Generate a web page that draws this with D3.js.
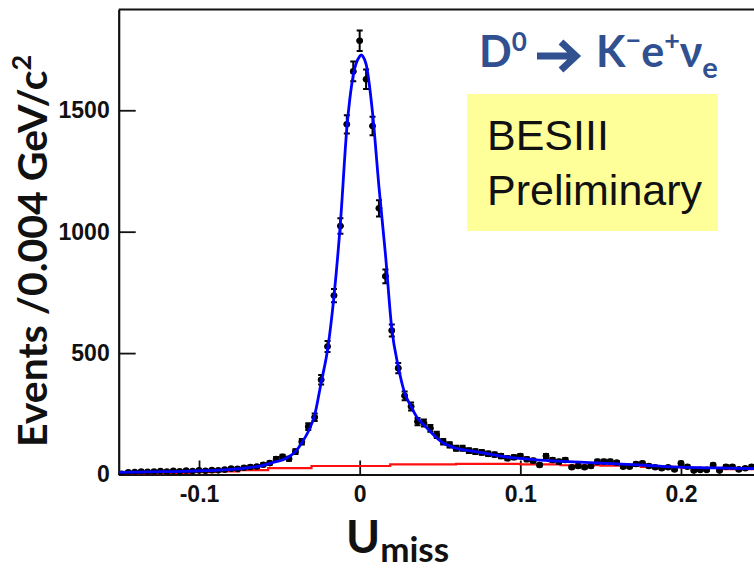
<!DOCTYPE html>
<html>
<head>
<meta charset="utf-8">
<script src="https://cdn.jsdelivr.net/npm/d3@7"></script>
<style>
  html, body { margin: 0; padding: 0; background: #fff; }
  svg { display: block; }
</style>
</head>
<body>
<svg id="chart" width="754" height="568"></svg>
<script>
// U_miss histogram: 0.004 GeV bins from -0.15 to 0.25
const uMin = -0.15;
const uMax = 0.25;
const binWidth = 0.004;

// Events per bin
const counts = [
  3, 9, 10, 12, 11, 12, 14, 12, 15, 13,
  16, 14, 17, 15, 18, 17, 20, 24, 23, 28,
  31, 33, 40, 47, 64, 73, 65, 94, 135, 197,
  236, 390, 527, 737, 1023, 1442, 1660, 1786, 1628, 1435,
  1096, 816, 593, 438, 324, 280, 218, 212, 190, 163,
  135, 122, 108, 108, 98, 94, 91, 85, 82, 76,
  67, 71, 76, 63, 57, 39, 76, 60, 53, 60,
  30, 35, 30, 35, 53, 53, 53, 49, 32, 32,
  43, 46, 35, 30, 26, 30, 21, 46, 32, 16,
  19, 19, 39, 16, 32, 32, 21, 26, 32, 28
];

// Total fit (signal + background)
const fitU = [
  -0.150, -0.130, -0.110, -0.100, -0.090, -0.080, -0.070, -0.060, -0.052, -0.048,
  -0.044, -0.040, -0.036, -0.032, -0.028, -0.024, -0.020, -0.016, -0.012, -0.008,
  -0.004, 0.000, 0.001, 0.002, 0.004, 0.008, 0.012, 0.016, 0.020, 0.024,
  0.028, 0.032, 0.036, 0.040, 0.044, 0.048, 0.052, 0.056, 0.060, 0.070,
  0.080, 0.090, 0.100, 0.110, 0.120, 0.140, 0.160, 0.180, 0.200, 0.220, 0.250
];
const fitVal = [
  9, 11, 13, 15, 17, 21, 27, 38, 53, 60,
  73, 94, 131, 177, 245, 378, 514, 734, 1035, 1424,
  1645, 1722, 1728, 1722, 1690, 1490, 1185, 910, 600, 445,
  336, 280, 232, 204, 177, 150, 130, 118, 108, 96,
  85, 74, 66, 60, 56, 50, 44, 37, 30, 27, 24
];

// Background component
const bkgU = [
  -0.150, -0.135, -0.120, -0.105, -0.090, -0.075, -0.057, -0.030, 0.019, 0.060,
  0.100, 0.125, 0.150, 0.175, 0.200, 0.225, 0.250
];
const bkgVal = [
  3, 5, 7, 10, 13, 18, 26, 35, 42, 44,
  42, 38, 36, 31, 27, 22, 19
];

// Axis ticks
const xTicks = [-0.1, 0, 0.1, 0.2];
const xTickLabels = ["-0.1", "0", "0.1", "0.2"];
const yTicks = [0, 500, 1000, 1500];
const yTickLabels = ["0", "500", "1000", "1500"];

const svg = d3.select("#chart");

const x = d3.scaleLinear().domain([uMin, uMax]).range([118.7, 761.3]);
const y = d3.scaleLinear().domain([0, 1915]).range([474.5, 9.5]);

const [xl, xr] = x.range();
const [yb, yt] = y.range();

svg.append("defs").append("clipPath").attr("id", "plotClip")
  .append("rect")
  .attr("x", xl).attr("y", yt)
  .attr("width", xr - xl).attr("height", yb - yt);

const tickFont = "'Liberation Sans', Arial, sans-serif";

// Frame: top border
svg.append("line")
  .attr("x1", xl).attr("x2", xr)
  .attr("y1", yt).attr("y2", yt)
  .attr("stroke", "#111").attr("stroke-width", 2.2);

// Y axis, ticks pointing into the frame
const yAxis = d3.axisLeft(y)
  .tickValues(yTicks)
  .tickFormat((d, i) => yTickLabels[i])
  .tickSizeInner(-17)
  .tickSizeOuter(0)
  .tickPadding(9);
const gy = svg.append("g")
  .attr("transform", `translate(${xl},0)`)
  .call(yAxis);

// X axis, ticks pointing up
const xAxis = d3.axisBottom(x)
  .tickValues(xTicks)
  .tickFormat((d, i) => xTickLabels[i])
  .tickSizeInner(-14)
  .tickSizeOuter(0)
  .tickPadding(11);
const gx = svg.append("g")
  .attr("transform", `translate(0,${yb})`)
  .call(xAxis);

[gx, gy].forEach(g => {
  g.attr("font-family", tickFont).attr("font-size", 23).attr("font-weight", "bold");
  g.select(".domain").attr("stroke", "#111").attr("stroke-width", 2.2);
  g.selectAll(".tick line").attr("stroke", "#111").attr("stroke-width", 1.8);
  g.selectAll(".tick text").attr("fill", "#111");
});

const plot = svg.append("g").attr("clip-path", "url(#plotClip)");

// Background shape
const bkgLine = d3.line()
  .x(d => x(d[0]))
  .y(d => y(d[1]))
  .curve(d3.curveStepAfter);
plot.append("path")
  .datum(bkgU.map((u, i) => [u, bkgVal[i]]))
  .attr("d", bkgLine)
  .attr("fill", "none")
  .attr("stroke", "#ff1010")
  .attr("stroke-width", 2.2);

// Data points with statistical error bars
const bins = counts.map((c, i) => ({ u: uMin + (i + 0.5) * binWidth, c }));
const pt = plot.selectAll("g.pt")
  .data(bins)
  .join("g")
  .attr("class", "pt")
  .attr("stroke", "#000")
  .attr("stroke-width", 2);

const hi = d => y(d.c + Math.sqrt(d.c));
const lo = d => y(Math.max(d.c - Math.sqrt(d.c), 0));

pt.append("line")
  .attr("x1", d => x(d.u)).attr("x2", d => x(d.u))
  .attr("y1", hi)
  .attr("y2", lo);
pt.append("line")
  .attr("x1", d => x(d.u - binWidth / 2)).attr("x2", d => x(d.u + binWidth / 2))
  .attr("y1", d => y(d.c)).attr("y2", d => y(d.c));
pt.append("line")
  .attr("x1", d => x(d.u) - 3).attr("x2", d => x(d.u) + 3)
  .attr("y1", hi).attr("y2", hi);
pt.append("line")
  .attr("x1", d => x(d.u) - 3).attr("x2", d => x(d.u) + 3)
  .attr("y1", lo).attr("y2", lo);
pt.append("circle")
  .attr("cx", d => x(d.u)).attr("cy", d => y(d.c))
  .attr("r", 3.3)
  .attr("fill", "#000")
  .attr("stroke", "none");

// Total fit curve
const fitLine = d3.line()
  .x(d => x(d[0]))
  .y(d => y(d[1]))
  .curve(d3.curveMonotoneX);
plot.append("path")
  .datum(fitU.map((u, i) => [u, fitVal[i]]))
  .attr("d", fitLine)
  .attr("fill", "none")
  .attr("stroke", "#0000ff")
  .attr("stroke-width", 2.8)
  .attr("stroke-linejoin", "round");

// Axis titles
const titleFont = "Lato, 'Open Sans', 'DejaVu Sans', sans-serif";

const yTitle = svg.append("text")
  .attr("transform", "translate(47,447) rotate(-90)")
  .attr("font-family", titleFont)
  .attr("font-weight", "bold")
  .attr("font-size", 41)
  .attr("fill", "#111");
yTitle.append("tspan").text("Events /0.004 GeV/c");
yTitle.append("tspan").attr("font-size", 27).attr("dy", -16).text("2");

const xTitle = svg.append("text")
  .attr("x", 346).attr("y", 553)
  .attr("font-family", titleFont)
  .attr("font-weight", "bold")
  .attr("font-size", 46)
  .attr("fill", "#111");
xTitle.append("tspan").text("U");
xTitle.append("tspan").attr("font-size", 35).attr("dy", 9).text("miss");

// Decay channel label
const decayColor = "#30508f";
const decay = svg.append("g")
  .attr("font-family", titleFont)
  .attr("font-weight", "bold")
  .attr("fill", decayColor);
const dLeft = decay.append("text").attr("x", 479).attr("y", 67).attr("font-size", 43);
dLeft.append("tspan").text("D");
dLeft.append("tspan").attr("font-size", 26).attr("dy", -16).text("0");

// heavy arrow between parent and daughters
decay.append("path")
  .attr("d", "M537,56 H575 M561,42 L576,56 L561,70")
  .attr("fill", "none")
  .attr("stroke", decayColor)
  .attr("stroke-width", 7)
  .attr("stroke-linecap", "butt")
  .attr("stroke-linejoin", "miter");

const dRight = decay.append("text").attr("x", 596).attr("y", 67).attr("font-size", 43);
dRight.append("tspan").text("K");
dRight.append("tspan").attr("font-size", 27).attr("dy", -17).text("\u2212");
dRight.append("tspan").attr("dy", 17).text("e");
dRight.append("tspan").attr("font-size", 27).attr("dy", -17).text("+");
dRight.append("tspan").attr("dy", 17).text("\u03bd");
dRight.append("tspan").attr("font-size", 29).attr("dy", 11).text("e");

// Preliminary tag
svg.append("rect")
  .attr("x", 467).attr("y", 94)
  .attr("width", 251).attr("height", 137)
  .attr("fill", "#ffff99");
const tag = svg.append("text")
  .attr("font-family", "'Liberation Sans', Arial, sans-serif")
  .attr("font-size", 43)
  .attr("fill", "#111");
tag.append("tspan").attr("x", 487).attr("y", 150).text("BESIII");
tag.append("tspan").attr("x", 487).attr("y", 205).text("Preliminary");
</script>
</body>
</html>
